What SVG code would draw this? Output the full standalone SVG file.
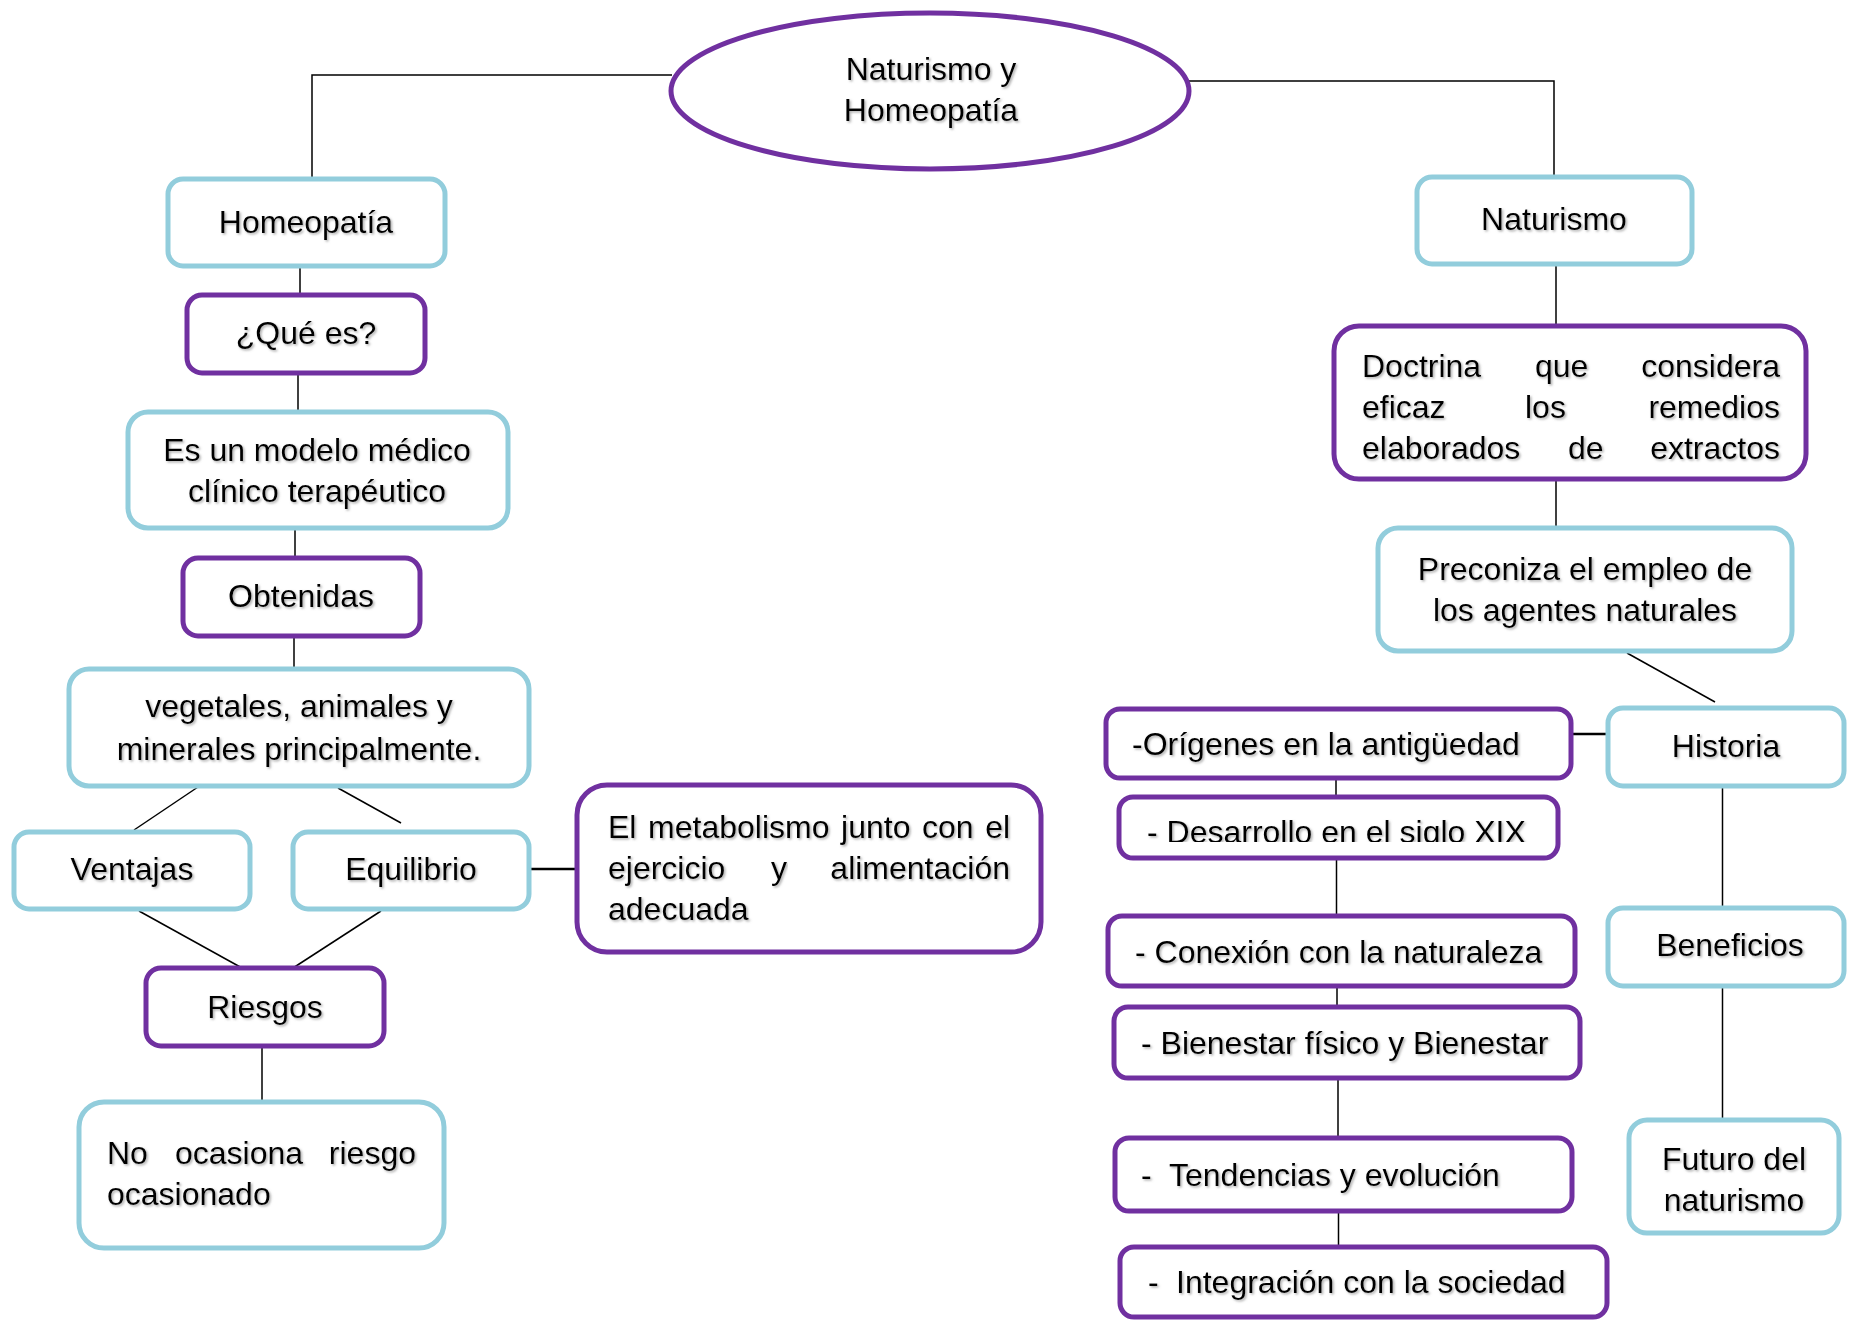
<svg xmlns="http://www.w3.org/2000/svg" width="1851" height="1320" viewBox="0 0 1851 1320">
<defs>
<filter id="sh" x="-5%" y="-20%" width="110%" height="150%">
<feDropShadow dx="1.5" dy="1.5" stdDeviation="1" flood-color="#777" flood-opacity="0.6"/>
</filter>
<clipPath id="clipDes"><rect x="1119" y="797" width="439" height="45"/></clipPath>
<style>
.b{fill:#fff;stroke:#92CDDC;stroke-width:5}
.p{fill:#fff;stroke:#7030A0;stroke-width:5}
.t{font-family:"Liberation Sans",Arial,sans-serif;font-size:32px;fill:#000;filter:url(#sh)}
.c{text-anchor:middle}
.e{text-anchor:end}
.ln{stroke:#000;stroke-width:1.5;fill:none}
.lnb{stroke:#000;stroke-width:2.5;fill:none}
</style>
</defs>
<rect width="1851" height="1320" fill="#fff"/>
<g id="connectors">
<polyline class="ln" points="672,75 312,75 312,179"/>
<polyline class="ln" points="1189,81 1554,81 1554,177"/>
<line class="ln" x1="300" y1="266" x2="300" y2="295"/>
<line class="ln" x1="298" y1="373" x2="298" y2="412"/>
<line class="ln" x1="295" y1="528" x2="295" y2="558"/>
<line class="ln" x1="294" y1="636" x2="294" y2="669"/>
<line class="ln" x1="198" y1="787" x2="134" y2="830"/>
<line class="ln" x1="338" y1="788" x2="401" y2="823"/>
<line class="ln" x1="139" y1="911" x2="242" y2="968"/>
<line class="ln" x1="381" y1="911" x2="293" y2="968"/>
<line class="lnb" x1="529" y1="869" x2="577" y2="869"/>
<line class="ln" x1="262" y1="1046" x2="262" y2="1102"/>
<line class="ln" x1="1556" y1="264" x2="1556" y2="326"/>
<line class="ln" x1="1556" y1="479" x2="1556" y2="528"/>
<line class="ln" x1="1627" y1="653" x2="1715" y2="702"/>
<line class="lnb" x1="1571" y1="734" x2="1608" y2="734"/>
<line class="ln" x1="1336" y1="778" x2="1336" y2="797"/>
<line class="ln" x1="1336.5" y1="858" x2="1336.5" y2="916"/>
<line class="ln" x1="1337" y1="986" x2="1337" y2="1007"/>
<line class="ln" x1="1338" y1="1078" x2="1338" y2="1138"/>
<line class="ln" x1="1338.5" y1="1211" x2="1338.5" y2="1247"/>
<line class="ln" x1="1722.5" y1="786" x2="1722.5" y2="908"/>
<line class="ln" x1="1722.5" y1="986" x2="1722.5" y2="1120"/>
</g>
<g id="root">
<ellipse cx="930" cy="91" rx="259" ry="78" fill="#fff" stroke="#7030A0" stroke-width="5"/>
<text class="t c" x="931" y="80">Naturismo y</text>
<text class="t c" x="931" y="121">Homeopatía</text>
</g>
<g id="homeopatia">
<rect class="b" x="168" y="179" width="277" height="87" rx="15"/>
<text class="t c" x="306" y="233">Homeopatía</text>
</g>
<g id="quees">
<rect class="p" x="187" y="295" width="238" height="78" rx="15"/>
<text class="t c" x="306" y="344">¿Qué es?</text>
</g>
<g id="modelo">
<rect class="b" x="128" y="412" width="380" height="116" rx="20"/>
<text class="t c" x="317" y="461">Es un modelo médico</text>
<text class="t c" x="317" y="502">clínico terapéutico</text>
</g>
<g id="obtenidas">
<rect class="p" x="183" y="558" width="237" height="78" rx="15"/>
<text class="t c" x="301" y="607">Obtenidas</text>
</g>
<g id="vegetales">
<rect class="b" x="69" y="669" width="460" height="117" rx="20"/>
<text class="t c" x="299" y="717">vegetales, animales y</text>
<text class="t c" x="299" y="760">minerales principalmente.</text>
</g>
<g id="ventajas">
<rect class="b" x="14" y="832" width="236" height="77" rx="15"/>
<text class="t c" x="132" y="880">Ventajas</text>
</g>
<g id="equilibrio">
<rect class="b" x="293" y="832" width="236" height="77" rx="15"/>
<text class="t c" x="411" y="880">Equilibrio</text>
</g>
<g id="metabolismo">
<rect class="p" x="577" y="785" width="464" height="167" rx="30"/>
<text class="t" x="608" y="838" word-spacing="2.7">El metabolismo junto con el</text>
<text class="t" x="608" y="879">ejercicio</text>
<text class="t" x="771" y="879">y</text>
<text class="t e" x="1010" y="879">alimentación</text>
<text class="t" x="608" y="920">adecuada</text>
</g>
<g id="riesgos">
<rect class="p" x="146" y="968" width="238" height="78" rx="15"/>
<text class="t c" x="265" y="1018">Riesgos</text>
</g>
<g id="noocasiona">
<rect class="b" x="79" y="1102" width="365" height="146" rx="25"/>
<text class="t" x="107" y="1164">No</text>
<text class="t" x="175" y="1164">ocasiona</text>
<text class="t e" x="416" y="1164">riesgo</text>
<text class="t" x="107" y="1205">ocasionado</text>
</g>
<g id="naturismo">
<rect class="b" x="1417" y="177" width="275" height="87" rx="15"/>
<text class="t c" x="1554" y="230">Naturismo</text>
</g>
<g id="doctrina">
<rect class="p" x="1334" y="326" width="472" height="153" rx="25"/>
<text class="t" x="1362" y="377">Doctrina</text>
<text class="t" x="1535" y="377">que</text>
<text class="t e" x="1780" y="377">considera</text>
<text class="t" x="1362" y="418">eficaz</text>
<text class="t" x="1525" y="418">los</text>
<text class="t e" x="1780" y="418">remedios</text>
<text class="t" x="1362" y="459">elaborados</text>
<text class="t" x="1568" y="459">de</text>
<text class="t e" x="1780" y="459">extractos</text>
</g>
<g id="preconiza">
<rect class="b" x="1378" y="528" width="414" height="123" rx="20"/>
<text class="t c" x="1585" y="580">Preconiza el empleo de</text>
<text class="t c" x="1585" y="621">los agentes naturales</text>
</g>
<g id="historia">
<rect class="b" x="1608" y="708" width="236" height="78" rx="15"/>
<text class="t c" x="1726" y="757">Historia</text>
</g>
<g id="origenes">
<rect class="p" x="1106" y="709" width="465" height="69" rx="14"/>
<text class="t" x="1132" y="755">-Orígenes en la antigüedad</text>
</g>
<g id="desarrollo">
<rect class="p" x="1119" y="797" width="439" height="61" rx="14"/>
<g clip-path="url(#clipDes)"><text class="t" x="1147" y="843">- Desarrollo en el siglo XIX</text></g>
</g>
<g id="conexion">
<rect class="p" x="1108" y="916" width="467" height="70" rx="14"/>
<text class="t" x="1135" y="963">- Conexión con la naturaleza</text>
</g>
<g id="bienestar">
<rect class="p" x="1114" y="1007" width="466" height="71" rx="14"/>
<text class="t" x="1141" y="1054">- Bienestar físico y Bienestar</text>
</g>
<g id="tendencias">
<rect class="p" x="1115" y="1138" width="457" height="73" rx="14"/>
<text class="t" x="1141" y="1186">-<tspan x="1169">Tendencias y evolución</tspan></text>
</g>
<g id="integracion">
<rect class="p" x="1120" y="1247" width="487" height="70" rx="14"/>
<text class="t" x="1148" y="1293">-<tspan x="1176">Integración con la sociedad</tspan></text>
</g>
<g id="beneficios">
<rect class="b" x="1608" y="908" width="236" height="78" rx="15"/>
<text class="t c" x="1730" y="956">Beneficios</text>
</g>
<g id="futuro">
<rect class="b" x="1629" y="1120" width="210" height="113" rx="18"/>
<text class="t c" x="1734" y="1170">Futuro del</text>
<text class="t c" x="1734" y="1211">naturismo</text>
</g>
</svg>
